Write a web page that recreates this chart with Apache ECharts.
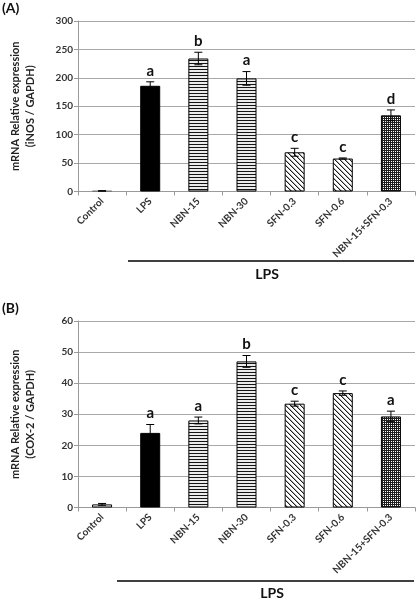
<!DOCTYPE html>
<html><head><meta charset="utf-8">
<script src="https://cdn.jsdelivr.net/npm/echarts@6/dist/echarts.min.js"></script>
<style>html,body{margin:0;padding:0;background:#fff}#c{width:418px;height:600px}</style>
</head><body><div id="c"></div>
<script>
const categories = ['Control','LPS','NBN-15','NBN-30','SFN-0.3','SFN-0.6','NBN-15+SFN-0.3'];
const inosMean = [1, 186, 234, 199, 69, 58, 134];
const inosErr = [0.5, 7, 11, 12, 7, 1, 9.5];
const inosLetters = ['', 'a', 'b', 'a', 'c', 'c', 'd'];
const coxMean = [1, 24, 28, 47, 33.4, 36.8, 29.3];
const coxErr = [0.3, 2.7, 1.1, 1.9, 0.8, 0.7, 1.7];
const coxLetters = ['', 'a', 'a', 'b', 'c', 'c', 'a'];
const inosTicks = [0, 300, 50];
const coxTicks = [0, 60, 10];

function pattern(w, h, fn) {
  const cv = document.createElement('canvas');
  cv.width = w; cv.height = h;
  const ctx = cv.getContext('2d');
  const img = ctx.createImageData(w, h);
  for (let y = 0; y < h; y++) for (let x = 0; x < w; x++) {
    const v = fn(x, y);
    const k = (y * w + x) * 4;
    img.data[k] = img.data[k+1] = img.data[k+2] = v; img.data[k+3] = 255;
  }
  ctx.putImageData(img, 0, 0);
  return { image: cv, repeat: 'repeat' };
}
const hStripe = pattern(4, 3, (x, y) => y === 0 ? 20 : 235);
const dStripe = pattern(5, 5, (x, y) => ((x - y + 10) % 5 === 0) ? 30 : ((x - y + 10) % 5 === 1 ? 170 : 255));
const checker = pattern(2, 2, (x, y) => (x === 1 && y === 1) ? 255 : 30);

function fills(control) {
  return [control, '#000', hStripe, hStripe, dStripe, dStripe, checker];
}

const chart = echarts.init(document.getElementById('c'), null, { renderer: 'canvas' });
const FONT = 'Lato';
const tickColor = '#333';

function xAxis(gi) {
  return {
    type: 'category', gridIndex: gi, data: categories,
    axisLine: { lineStyle: { color: '#9a9a9a', width: 1 } },
    axisTick: { show: true, length: 4, lineStyle: { color: '#9a9a9a' } },
    axisLabel: { rotate: 45, margin: 8, fontFamily: FONT, fontWeight: 'bold', fontSize: 10, color: tickColor, interval: 0 }
  };
}
function yAxis(gi, ticks, name) {
  return {
    type: 'value', gridIndex: gi, min: ticks[0], max: ticks[1], interval: ticks[2],
    name: name, nameLocation: 'middle', nameRotate: 90, nameGap: 40,
    nameTextStyle: { fontFamily: FONT, fontWeight: 'bold', fontSize: 11, color: '#222', lineHeight: 15 },
    axisLine: { show: true, lineStyle: { color: '#9a9a9a' } },
    axisTick: { show: true, length: 4, lineStyle: { color: '#9a9a9a' } },
    splitLine: { lineStyle: { color: '#a8a8a8', width: 1 } },
    axisLabel: { margin: 5, fontFamily: FONT, fontWeight: 'bold', fontSize: 10, color: tickColor }
  };
}
function barSeries(gi, means, controlFill) {
  const f = fills(controlFill);
  return {
    type: 'bar', xAxisIndex: gi, yAxisIndex: gi, barWidth: 20, silent: true,
    data: means.map((v, i) => ({ value: v, itemStyle: { color: f[i], borderColor: i === 0 && gi === 0 ? '#777' : '#000', borderWidth: 1 } }))
  };
}
function errSeries(gi, means, errs, letters) {
  return {
    type: 'custom', xAxisIndex: gi, yAxisIndex: gi, silent: true, z: 10,
    data: means.map((m, i) => [i, m, errs[i]]),
    encode: { x: 0, y: 1 },
    renderItem: function (params, api) {
      const x = api.value(0), m = api.value(1), e = api.value(2);
      const top = api.coord([x, m + e]);
      const bot = api.coord([x, m - e]);
      const hw = 4;
      const st = { stroke: '#000', lineWidth: 1 };
      const kids = [
        { type: 'line', shape: { x1: top[0], y1: top[1], x2: bot[0], y2: bot[1] }, style: st },
        { type: 'line', shape: { x1: top[0] - hw, y1: top[1], x2: top[0] + hw, y2: top[1] }, style: st },
        { type: 'line', shape: { x1: bot[0] - hw, y1: bot[1], x2: bot[0] + hw, y2: bot[1] }, style: st }
      ];
      const L = letters[params.dataIndex];
      if (L) kids.push({ type: 'text', x: top[0], y: top[1] - 11, style: { text: L, fill: '#111', font: 'bold 15px ' + FONT, textAlign: 'center', textVerticalAlign: 'middle' } });
      return { type: 'group', children: kids };
    }
  };
}

chart.setOption({
  animation: false,
  backgroundColor: '#fff',
  grid: [
    { left: 76, right: 3, top: 21, height: 170.5, containLabel: false },
    { left: 67, right: 3, top: 321, height: 186.5, containLabel: false }
  ],
  xAxis: [xAxis(0), xAxis(1)],
  yAxis: [yAxis(0, inosTicks, 'mRNA Relative expression\n(iNOS / GAPDH)'), yAxis(1, coxTicks, 'mRNA Relative expression\n(COX-2 / GAPDH)')],
  series: [
    barSeries(0, inosMean, '#8a8a8a'),
    errSeries(0, inosMean, inosErr, inosLetters),
    barSeries(1, coxMean, '#fff'),
    errSeries(1, coxMean, coxErr, coxLetters)
  ],
  graphic: [
    { type: 'text', left: 2, top: 1, style: { text: '(A)', font: 'bold 14px ' + FONT, fill: '#111' } },
    { type: 'text', left: 2, top: 301, style: { text: '(B)', font: 'bold 14px ' + FONT, fill: '#111' } },
    { type: 'line', shape: { x1: 128, y1: 261, x2: 414, y2: 261 }, style: { stroke: '#000', lineWidth: 1.5 } },
    { type: 'text', x: 267, y: 274, style: { text: 'LPS', font: 'bold 14px ' + FONT, fill: '#111', textAlign: 'center', textVerticalAlign: 'middle' } },
    { type: 'line', shape: { x1: 117, y1: 581, x2: 414, y2: 581 }, style: { stroke: '#000', lineWidth: 1.5 } },
    { type: 'text', x: 272, y: 593, style: { text: 'LPS', font: 'bold 14px ' + FONT, fill: '#111', textAlign: 'center', textVerticalAlign: 'middle' } }
  ]
});
</script></body></html>
